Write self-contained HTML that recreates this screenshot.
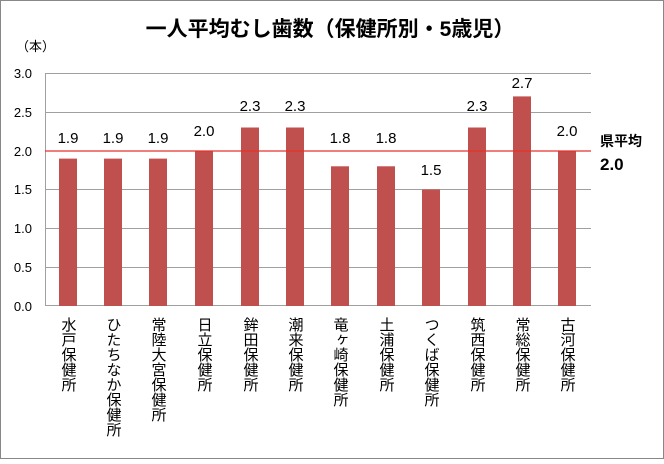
<!DOCTYPE html>
<html><head><meta charset="utf-8"><style>
body{margin:0;background:#fff}
svg text{font-family:"Liberation Sans","Noto Sans CJK JP",sans-serif}
</style></head><body>
<svg width="664" height="459" xmlns="http://www.w3.org/2000/svg">
<rect x="0.5" y="0.5" width="663" height="458" fill="#fff" stroke="#888"/>
<text x="330" y="36" font-size="21" font-weight="bold" text-anchor="middle" fill="#000">一人平均むし歯数（保健所別・5歳児）</text>
<text x="16" y="51" font-size="13" fill="#000">（本）</text>
<g stroke="#a0a0a0" stroke-width="1">
<line x1="45" y1="73.5" x2="591" y2="73.5"/>
<line x1="45" y1="112.5" x2="591" y2="112.5"/>
<line x1="45" y1="189.5" x2="591" y2="189.5"/>
<line x1="45" y1="228.5" x2="591" y2="228.5"/>
<line x1="45" y1="267.5" x2="591" y2="267.5"/>
<line x1="45.5" y1="73" x2="45.5" y2="306"/>
<line x1="45" y1="305.5" x2="591" y2="305.5"/>
</g>
<g font-size="13" text-anchor="end" fill="#000">
<text x="32" y="78">3.0</text><text x="32" y="117">2.5</text><text x="32" y="156">2.0</text>
<text x="32" y="194">1.5</text><text x="32" y="233">1.0</text><text x="32" y="272">0.5</text><text x="32" y="311">0.0</text>
</g>
<g fill="#c0504d">
<rect x="59" y="158.6" width="18" height="147.4"/>
<rect x="104" y="158.6" width="18" height="147.4"/>
<rect x="149" y="158.6" width="18" height="147.4"/>
<rect x="195" y="150.8" width="18" height="155.2"/>
<rect x="241" y="127.5" width="18" height="178.5"/>
<rect x="286" y="127.5" width="18" height="178.5"/>
<rect x="331" y="166.3" width="18" height="139.7"/>
<rect x="377" y="166.3" width="18" height="139.7"/>
<rect x="422" y="189.5" width="18" height="116.5"/>
<rect x="468" y="127.5" width="18" height="178.5"/>
<rect x="513" y="96.4" width="18" height="209.6"/>
<rect x="558" y="150.8" width="18" height="155.2"/>
</g>
<line x1="45" y1="151" x2="591" y2="151" stroke="#e8302a" stroke-width="1.2"/>
<g font-size="15" text-anchor="middle" fill="#000">
<text x="68" y="143">1.9</text><text x="113" y="143">1.9</text><text x="158" y="143">1.9</text>
<text x="204" y="136">2.0</text><text x="250" y="111">2.3</text><text x="295" y="111">2.3</text>
<text x="340" y="143">1.8</text><text x="386" y="143">1.8</text><text x="431" y="175">1.5</text>
<text x="477" y="111">2.3</text><text x="522" y="88">2.7</text><text x="567" y="136">2.0</text>
</g>
<text x="600" y="146" font-size="14" font-weight="bold" fill="#000">県平均</text>
<text x="600" y="170" font-size="17" font-weight="bold" fill="#000">2.0</text>
<g font-size="15" fill="#000" text-anchor="start" style="writing-mode:vertical-rl">
<text x="68" y="317">水戸保健所</text>
<text x="113" y="317">ひたちなか保健所</text>
<text x="158" y="317">常陸大宮保健所</text>
<text x="204" y="317">日立保健所</text>
<text x="250" y="317">鉾田保健所</text>
<text x="295" y="317">潮来保健所</text>
<text x="340" y="317">竜ヶ崎保健所</text>
<text x="386" y="317">土浦保健所</text>
<text x="431" y="317">つくば保健所</text>
<text x="477" y="317">筑西保健所</text>
<text x="522" y="317">常総保健所</text>
<text x="567" y="317">古河保健所</text>
</g>
</svg>
</body></html>
